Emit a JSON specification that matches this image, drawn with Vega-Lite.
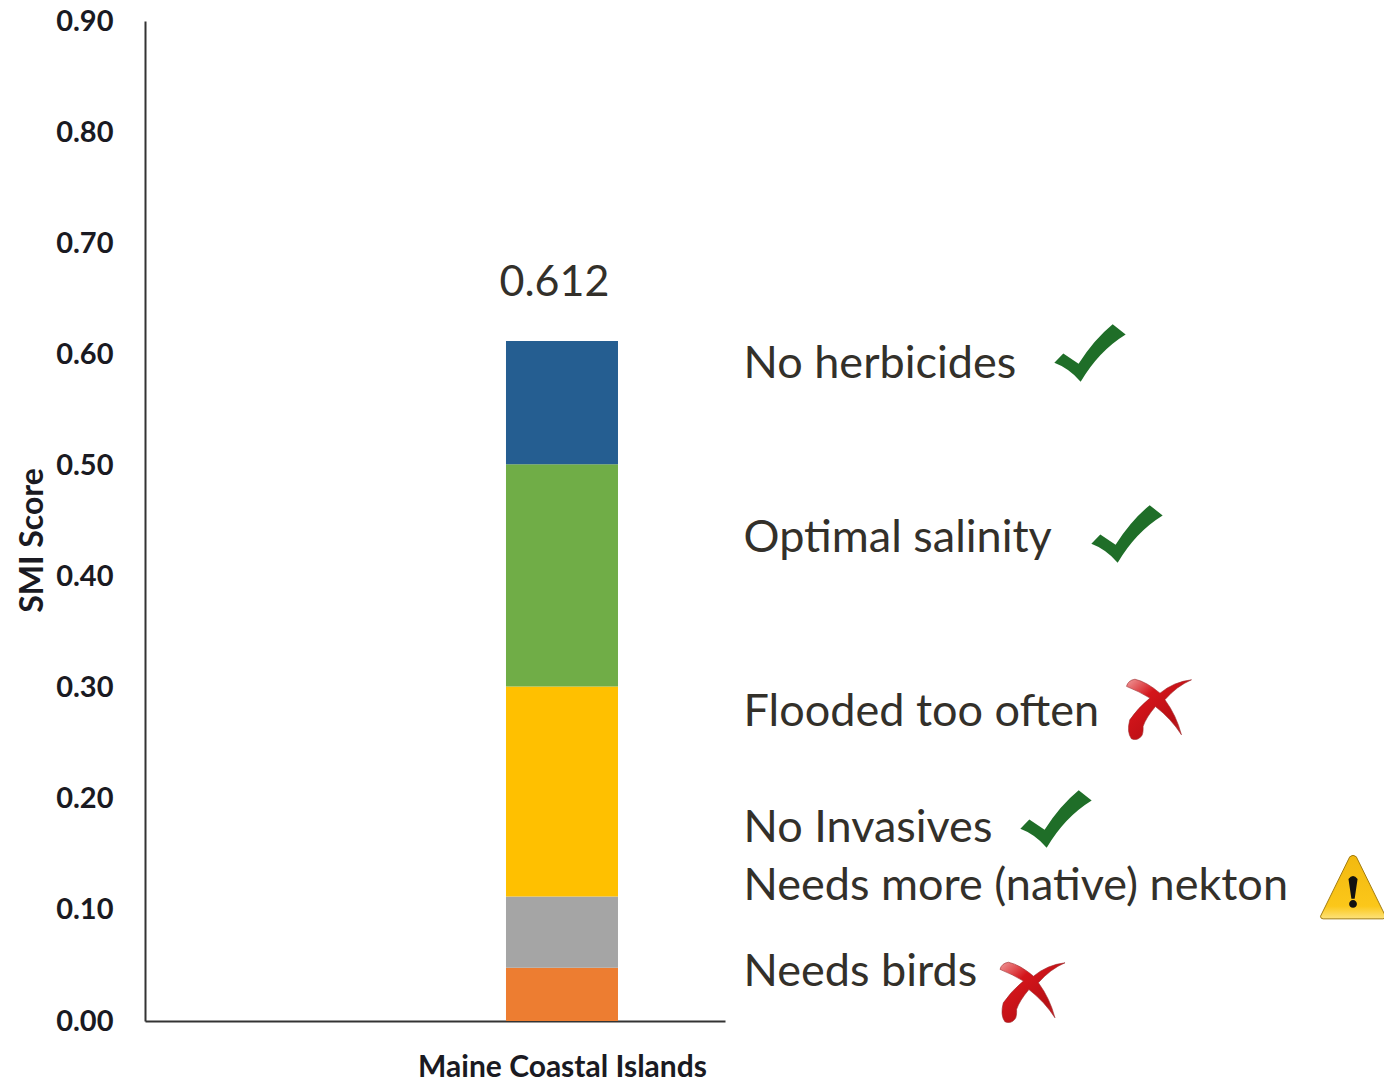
{
  "$schema": "https://vega.github.io/schema/vega-lite/v6.json",
  "width": 580,
  "height": 1000,
  "autosize": {"type": "none"},
  "padding": {"left": 145, "top": 21, "right": 659, "bottom": 62},
  "background": "white",
  "config": {"view": {"stroke": null}},
  "datasets": {
    "segments": [
      {"band": "1", "left": 62.24, "right": 81.55, "low": 0, "high": 0.048},
      {"band": "2", "left": 62.24, "right": 81.55, "low": 0.048, "high": 0.112},
      {"band": "3", "left": 62.24, "right": 81.55, "low": 0.112, "high": 0.301},
      {"band": "4", "left": 62.24, "right": 81.55, "low": 0.301, "high": 0.501},
      {"band": "5", "left": 62.24, "right": 81.55, "low": 0.501, "high": 0.612}
    ],
    "total": [{"pos": 70.6, "score": 0.664, "label": "0.612"}],
    "notes": [
      {"pos": 103.2, "score": 0.5915, "note": "No herbicides"},
      {"pos": 103.2, "score": 0.4345, "note": "Optimal salinity"},
      {"pos": 103.2, "score": 0.278, "note": "Flooded too often"},
      {"pos": 103.2, "score": 0.1735, "note": "No Invasives"},
      {"pos": 103.2, "score": 0.1214, "note": "Needs more (native) nekton"},
      {"pos": 103.2, "score": 0.044, "note": "Needs birds"}
    ],
    "checks": [
      {"pos": 162.93, "score": 0.6012},
      {"pos": 169.31, "score": 0.4383},
      {"pos": 157.07, "score": 0.1818}
    ],
    "crosses": [
      {"pos": 174.83, "score": 0.2804},
      {"pos": 153.02, "score": 0.0257}
    ],
    "warnings": [{"pos": 208.28, "score": 0.1206}]
  },
  "encoding": {
    "x": {
      "field": "pos",
      "type": "quantitative",
      "scale": {"domain": [0, 100], "nice": false, "zero": false},
      "axis": {
        "title": null,
        "grid": false,
        "ticks": false,
        "values": [71.9],
        "labelExpr": "'Maine Coastal Islands'",
        "labelLimit": 0,
        "labelFont": "Lato",
        "labelFontWeight": "bold",
        "labelFontSize": 30,
        "labelColor": "#1a1a22",
        "labelPadding": 46,
        "labelBaseline": "middle",
        "domainColor": "#333333",
        "domainWidth": 2
      }
    },
    "y": {
      "field": "score",
      "type": "quantitative",
      "scale": {"domain": [0, 0.9], "nice": false},
      "axis": {
        "title": "SMI Score",
        "titleFont": "Lato",
        "titleFontWeight": "bold",
        "titleFontSize": 32,
        "titleColor": "#1a1a22",
        "titleX": -96,
        "titleY": 519,
        "grid": false,
        "ticks": false,
        "values": [0, 0.1, 0.2, 0.3, 0.4, 0.5, 0.6, 0.7, 0.8, 0.9],
        "format": ".2f",
        "labelFont": "Lato",
        "labelFontWeight": "bold",
        "labelFontSize": 29,
        "labelColor": "#1a1a22",
        "labelPadding": 32,
        "labelOffset": 0,
        "domainColor": "#333333",
        "domainWidth": 2
      }
    }
  },
  "layer": [
    {
      "data": {"name": "segments"},
      "mark": {"type": "rect"},
      "encoding": {
        "x": {"field": "left", "type": "quantitative"},
        "x2": {"field": "right"},
        "y": {"field": "low", "type": "quantitative"},
        "y2": {"field": "high"},
        "color": {
          "field": "band",
          "type": "nominal",
          "legend": null,
          "scale": {
            "domain": ["1", "2", "3", "4", "5"],
            "range": ["#ED7D31", "#A5A5A5", "#FFC000", "#70AD47", "#255E91"]
          }
        }
      }
    },
    {
      "data": {"name": "total"},
      "mark": {"type": "text", "font": "Lato", "fontSize": 43, "color": "#33302a", "align": "center", "baseline": "middle"},
      "encoding": {"text": {"field": "label", "type": "nominal"}}
    },
    {
      "data": {"name": "notes"},
      "mark": {"type": "text", "font": "Lato", "fontSize": 45, "color": "#33302a", "align": "left", "baseline": "middle"},
      "encoding": {"text": {"field": "note", "type": "nominal"}}
    },
    {
      "data": {"name": "checks"},
      "mark": {
        "type": "point",
        "filled": true,
        "size": 5088,
        "fill": "#1f6e28",
        "opacity": 1,
        "shape": "M-1,0.276 L-0.748,0.014 L-0.32,0.3 Q0.112,-0.38 0.636,-0.808 L1,-0.519 Q0.24,-0.05 -0.262,0.808 Q-0.583,0.43 -1,0.276 Z"
      }
    },
    {
      "data": {"name": "crosses"},
      "mark": {
        "type": "point",
        "filled": true,
        "size": 4225,
        "opacity": 1,
        "stroke": "#9c2a2c",
        "strokeWidth": 0.6,
        "fill": {
          "gradient": "linear",
          "x1": 0, "y1": 0, "x2": 1, "y2": 1,
          "stops": [
            {"offset": 0, "color": "#f09a9a"},
            {"offset": 0.3, "color": "#d4151b"},
            {"offset": 0.7, "color": "#b80f14"},
            {"offset": 1, "color": "#c93a3d"}
          ]
        },
        "shape": "M1,-0.913 Q0.55,-0.72 0.18,-0.3 Q0.54,0.19 0.69,0.78 Q0.376,0.29 -0.11,-0.09 Q-0.4,0.25 -0.49,0.52 Q-0.48,0.75 -0.54,0.82 Q-0.66,0.98 -0.85,0.9 Q-1,0.7 -0.9,0.32 Q-0.65,-0.05 -0.28,-0.35 Q-0.6,-0.55 -1,-0.71 Q-0.95,-0.9 -0.74,-0.93 Q-0.38,-0.85 0.03,-0.5 Q0.45,-0.85 1,-0.913 Z"
      }
    },
    {
      "data": {"name": "warnings"},
      "mark": {
        "type": "point",
        "filled": true,
        "size": 4225,
        "opacity": 1,
        "stroke": "#a37c10",
        "strokeWidth": 1,
        "fill": {
          "gradient": "linear",
          "x1": 0, "y1": 0, "x2": 0, "y2": 1,
          "stops": [
            {"offset": 0, "color": "#f2b90f"},
            {"offset": 0.8, "color": "#fbc71a"},
            {"offset": 1, "color": "#fde27a"}
          ]
        },
        "shape": "M-0.1,-0.93 Q0,-1.02 0.1,-0.93 L1,0.9 Q1,0.98 0.92,0.98 L-0.92,0.98 Q-1,0.98 -1,0.9 Z"
      }
    },
    {
      "data": {"name": "warnings"},
      "mark": {
        "type": "point",
        "filled": true,
        "size": 4225,
        "opacity": 1,
        "fill": "#111111",
        "shape": "M-0.14,-0.25 Q0,-0.42 0.14,-0.25 L0.05,0.36 L-0.05,0.36 Z M0,0.4 A0.12,0.12 0 1 1 0,0.64 A0.12,0.12 0 1 1 0,0.4 Z"
      }
    }
  ]
}
